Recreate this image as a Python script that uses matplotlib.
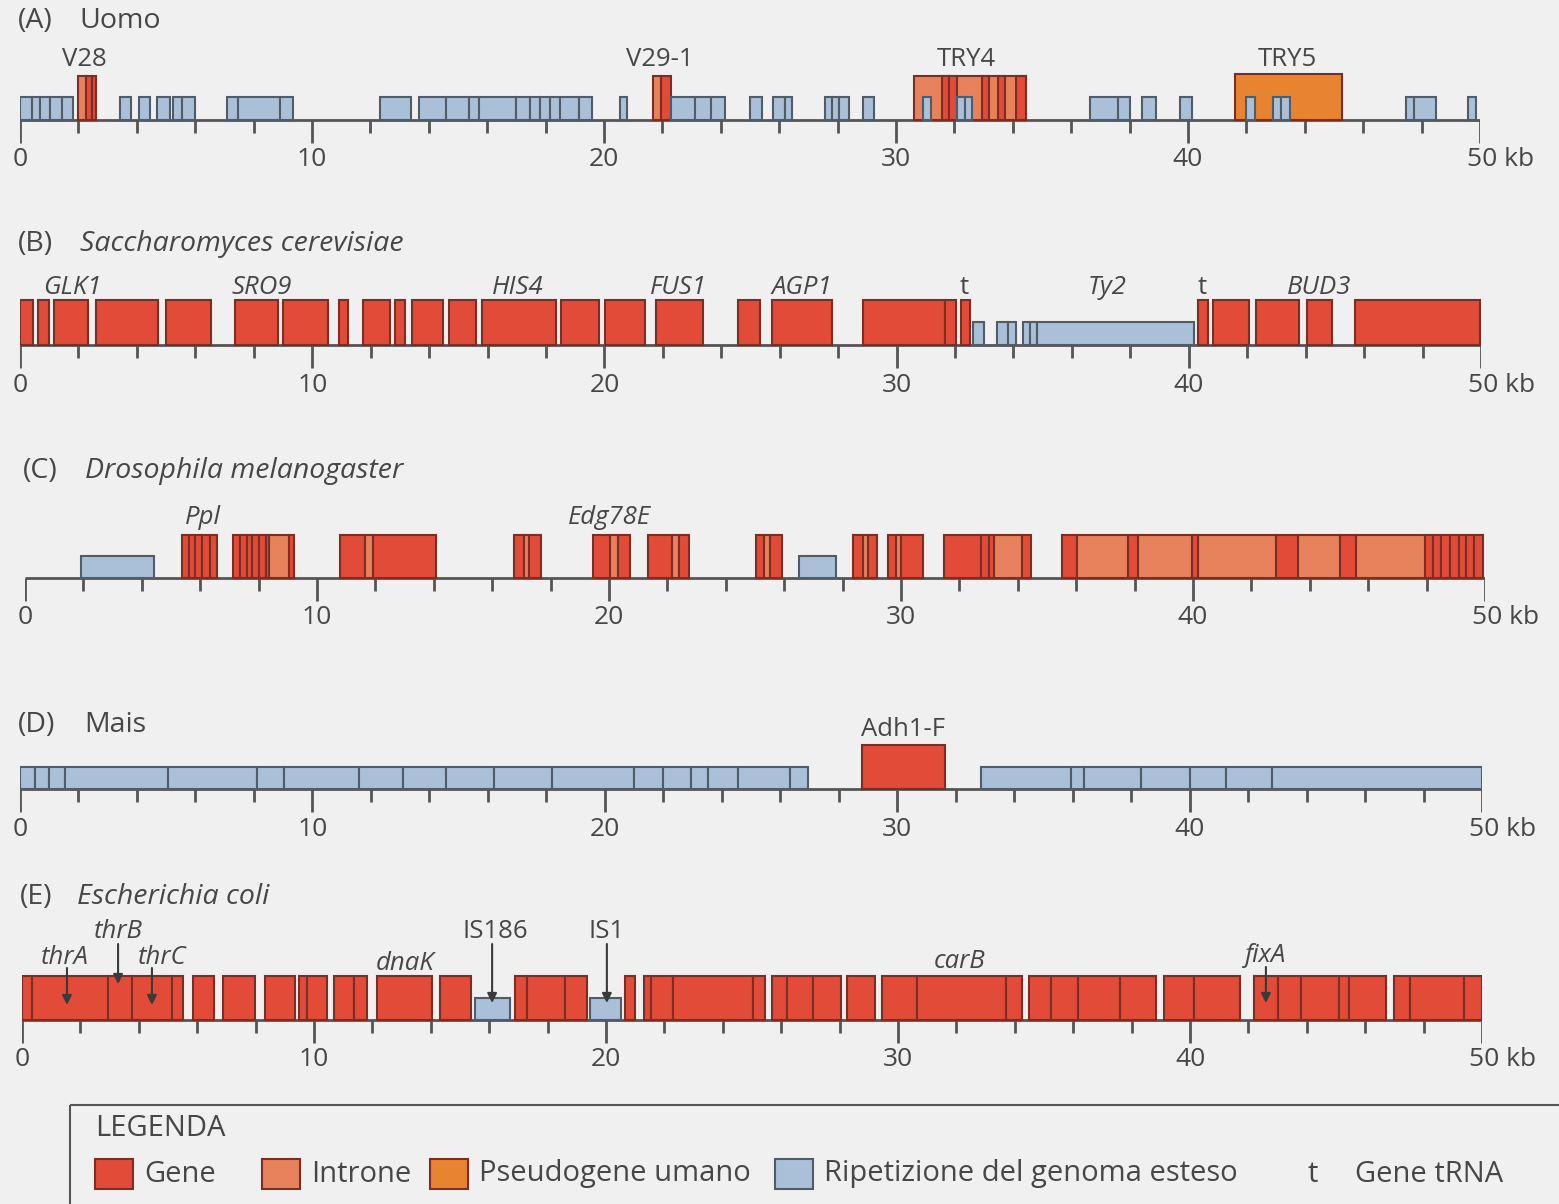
import matplotlib.pyplot as plt
import numpy as np
from matplotlib.patches import Rectangle

plt.rcParams['font.family'] = ['Open Sans', 'DejaVu Sans']

W, H = 1559, 1204
BG = "#F0F0F0"
GENE = "#E14B37"
INTRON = "#E8825C"
PSEUDO = "#E8842F"
REPEAT = "#AAC0D8"
GENE_EDGE = "#7A2E24"
REP_EDGE = "#505C68"
INK = "#474747"

# each run is a list of boundaries in kb; neighbouring boundaries make adjacent boxes
# (A) Uomo
A_gene_runs = [[2.26, 2.45, 2.6], [21.95, 22.28], [31.56, 31.82, 32.08], [32.95, 33.2],
               [33.48, 33.74], [34.1, 34.44]]
A_introns = [[1.98, 2.26], [21.68, 21.95], [30.63, 34.44]]
A_pseudo = [[41.6, 45.28]]
A_repeat_runs = [[0, 0.41, 0.68, 1.03, 1.44, 1.81], [3.42, 3.8], [4.07, 4.45], [4.68, 5.12],
                 [5.23, 5.55, 5.98], [7.08, 7.46, 8.89, 9.34], [12.33, 13.4],
                 [13.66, 14.59, 15.36, 15.73, 17.0, 17.48, 17.82, 18.16, 18.5, 19.13, 19.59],
                 [20.54, 20.78], [22.28, 23.13, 23.67, 24.15], [25.0, 25.4], [25.8, 26.2, 26.45],
                 [27.57, 27.8, 28.06, 28.4], [28.88, 29.23], [30.94, 31.21], [32.1, 32.35, 32.6],
                 [36.63, 37.6, 38.02], [38.43, 38.9], [39.74, 40.12], [41.99, 42.3],
                 [42.92, 43.2, 43.5], [47.46, 47.73, 48.48], [49.6, 49.86]]
A_labels = ["V28", "V29-1", "TRY4", "TRY5"]
A_label_kb = [2.2, 21.9, 32.4, 43.4]

# (B) Saccharomyces cerevisiae
B_gene_runs = [[0, 0.46], [0.63, 0.99], [1.16, 2.34], [2.59, 4.73], [5.0, 6.54], [7.35, 8.82],
               [8.99, 10.53], [10.92, 11.21], [11.74, 12.66], [12.83, 13.19], [13.41, 14.47],
               [14.68, 15.61], [15.82, 18.34], [18.53, 19.8], [20.02, 21.38], [21.77, 23.38],
               [24.57, 25.34], [25.75, 27.8], [28.85, 31.67, 32.02], [32.2, 32.5],
               [40.33, 40.64], [40.82, 42.07], [42.3, 43.78], [44.04, 44.91], [45.7, 49.97]]
B_repeat_runs = [[32.63, 32.98], [33.45, 33.8, 34.1], [34.34, 34.55, 34.8, 40.17]]
B_labels = ["GLK1", "SRO9", "HIS4", "FUS1", "AGP1", "t", "Ty2", "t", "BUD3"]
B_label_kb = [1.78, 8.28, 17.03, 22.54, 26.74, 32.32, 37.2, 40.46, 44.46]
B_label_italic = [True, True, True, True, True, False, True, False, True]

# (C) Drosophila melanogaster
C_gene_runs = [[5.36, 5.61, 5.81, 6.07, 6.32, 6.58], [7.12, 7.37, 7.59, 7.76, 8.0, 8.25, 8.36],
               [9.03, 9.2], [10.78, 11.66], [11.92, 14.08], [16.75, 17.08], [17.25, 17.68],
               [19.46, 20.05], [20.3, 20.73], [21.32, 22.15], [22.4, 22.73], [25.03, 25.3],
               [25.5, 25.94], [28.35, 28.7], [28.88, 29.19], [29.54, 29.84], [30.0, 30.77],
               [31.47, 32.73, 33.0, 33.17], [34.13, 34.45], [35.5, 36.02], [37.78, 38.13],
               [39.97, 40.18], [42.85, 43.59], [45.04, 45.57],
               [47.93, 48.23, 48.5, 48.8, 49.1, 49.36, 49.62, 49.93]]
C_introns = [[8.36, 9.03], [11.66, 11.92], [17.08, 17.25], [20.05, 20.3], [22.15, 22.4],
             [25.3, 25.5], [28.7, 28.88], [29.84, 30.0], [33.17, 34.13], [36.02, 37.78],
             [38.13, 39.97], [40.18, 42.85], [43.59, 45.04], [45.57, 47.93]]
C_repeat_runs = [[1.92, 4.42], [26.52, 27.79]]
C_labels = ["Ppl", "Edg78E"]
C_label_kb = [6.1, 20.0]

# (D) Mais
D_gene_runs = [[28.8, 31.65]]
D_repeat_runs = [[0, 0.52, 1.0, 1.55, 5.07, 8.1, 9.03, 11.58, 13.1, 14.57, 16.2, 18.2,
                  21.0, 22.0, 22.95, 23.52, 24.54, 26.35, 26.95],
                 [32.85, 35.95, 36.4, 38.35, 40.0, 41.25, 42.83, 50.0]]
D_labels = ["Adh1-F"]
D_label_kb = [30.2]

# (E) Escherichia coli
E_gene_runs = [[0, 0.34, 2.93, 3.78, 5.14, 5.53], [5.84, 6.58], [6.9, 7.98], [8.31, 9.35],
               [9.5, 9.76, 10.44], [10.7, 11.37, 11.8], [12.15, 14.04], [14.32, 15.38],
               [16.9, 17.29, 18.61, 19.35], [20.66, 21.0], [21.3, 21.55, 22.3, 25.05, 25.45],
               [25.7, 26.2, 27.1, 28.05], [28.25, 29.2], [29.45, 30.65, 33.7, 34.25],
               [34.5, 35.25, 36.15, 37.6, 38.85], [39.1, 40.15, 41.7], [42.2, 43.0, 43.8, 45.1, 45.45, 46.7],
               [47.0, 47.55, 49.4, 50.0]]
E_repeat_runs = [[15.53, 16.71], [19.46, 20.51]]
E_labels = ["thrA", "thrB", "thrC", "dnaK", "IS186", "IS1", "carB", "fixA"]
E_label_kb = [1.47, 3.29, 4.8, 13.12, 16.2, 20.03, 32.1, 42.6]
E_label_up = [63, 88, 63, 57, 89, 89, 58, 65]
E_label_italic = [True, True, True, True, False, False, True, True]
E_arrow_kb = [1.54, 3.29, 4.45, 16.1, 20.03, 42.6]
E_arrow_tail = [52, 76, 52, 76, 76, 53]
E_arrow_head = [15, 36, 15, 17, 17, 17]

TICK_FS = 19
LAB_FS = 18.5
TITLE_FS = 20.5
LEG_FS = 21

fig = plt.figure(figsize=(W / 100, H / 100), dpi=100, facecolor=BG)


def panel(x0, x1, yb):
    ax = fig.add_axes([x0 / W, 1 - (yb + 65) / H, (x1 - x0) / W, 200 / H])
    ax.set_xlim(0, 50)
    ax.set_ylim(-65, 135)
    ax.axis("off")
    ax.plot([0, 50], [0, 0], color="#555555", lw=2, zorder=1, solid_capstyle="butt")
    ticks = np.arange(0, 51, 2)
    major = ticks[ticks % 10 == 0]
    minor = ticks[ticks % 10 != 0]
    ax.vlines(major, -23, 0, color="#555555", lw=2, zorder=1)
    ax.vlines(minor, -13, 0, color="#555555", lw=2, zorder=1)
    for t in major[:-1]:
        ax.text(t, -40, str(t), ha="center", va="center", fontsize=TICK_FS, color=INK)
    ax.text(49.55, -40, "50 kb", ha="left", va="center", fontsize=TICK_FS, color=INK,
            clip_on=False)
    return ax


def boxes(ax, runs, h, face, edge, z):
    for run in runs:
        for a, b in zip(run[:-1], run[1:]):
            ax.add_patch(Rectangle((a, 0), b - a, h, facecolor=face, edgecolor=edge,
                                   lw=1.5, zorder=z))


def title(ax, tag, name, up, name_kb, italic=True):
    ax.text(-0.07, up, tag, ha="left", va="center", fontsize=TITLE_FS, color=INK, clip_on=False)
    ax.text(name_kb, up, name, ha="left", va="center", fontsize=TITLE_FS, color=INK,
            style="italic" if italic else "normal", clip_on=False)


# (A)
ax = panel(20, 1480, 120)
boxes(ax, A_introns, 44, INTRON, GENE_EDGE, 2)
boxes(ax, A_pseudo, 46, PSEUDO, GENE_EDGE, 2)
boxes(ax, A_gene_runs, 44, GENE, GENE_EDGE, 3)
boxes(ax, A_repeat_runs, 23, REPEAT, REP_EDGE, 4)
for lab, k in zip(A_labels, A_label_kb):
    ax.text(k, 60, lab, ha="center", va="center", fontsize=LAB_FS, color=INK)
title(ax, "(A)", "Uomo", 99, 2.05, italic=False)

# (B)
ax = panel(20, 1481, 345)
boxes(ax, B_gene_runs, 45, GENE, GENE_EDGE, 3)
boxes(ax, B_repeat_runs, 23, REPEAT, REP_EDGE, 4)
for lab, k, it in zip(B_labels, B_label_kb, B_label_italic):
    ax.text(k, 58, lab, ha="center", va="center", fontsize=LAB_FS, color=INK,
            style="italic" if it else "normal")
title(ax, "(B)", "Saccharomyces cerevisiae", 101, 2.05)

# (C)
ax = panel(25, 1485, 578)
boxes(ax, C_introns, 43, INTRON, GENE_EDGE, 2)
boxes(ax, C_gene_runs, 43, GENE, GENE_EDGE, 3)
boxes(ax, C_repeat_runs, 22, REPEAT, REP_EDGE, 4)
for lab, k in zip(C_labels, C_label_kb):
    ax.text(k, 61, lab, ha="center", va="center", fontsize=LAB_FS, color=INK, style="italic")
title(ax, "(C)", "Drosophila melanogaster", 107, 2.05)

# (D)
ax = panel(20, 1482, 789)
boxes(ax, D_gene_runs, 44, GENE, GENE_EDGE, 3)
boxes(ax, D_repeat_runs, 22, REPEAT, REP_EDGE, 4)
for lab, k in zip(D_labels, D_label_kb):
    ax.text(k, 59, lab, ha="center", va="center", fontsize=LAB_FS, color=INK)
title(ax, "(D)", "Mais", 64, 2.2, italic=False)

# (E)
ax = panel(22, 1482, 1020)
boxes(ax, E_gene_runs, 44, GENE, GENE_EDGE, 3)
boxes(ax, E_repeat_runs, 22, REPEAT, REP_EDGE, 4)
for lab, k, up, it in zip(E_labels, E_label_kb, E_label_up, E_label_italic):
    ax.text(k, up, lab, ha="center", va="center", fontsize=LAB_FS, color=INK,
            style="italic" if it else "normal")
for k, t0, t1 in zip(E_arrow_kb, E_arrow_tail, E_arrow_head):
    ax.annotate("", xy=(k, t1), xytext=(k, t0), zorder=6,
                arrowprops=dict(arrowstyle="-|>", color="#3a3a3a", lw=1.5, mutation_scale=14,
                                shrinkA=0, shrinkB=0))
title(ax, "(E)", "Escherichia coli", 123, 1.9)

# legend
lg = fig.add_axes([0, 0, 1, 1])
lg.set_xlim(0, W)
lg.set_ylim(H, 0)
lg.axis("off")
lg.add_patch(Rectangle((70, 1105), 1600, 200, facecolor="none", edgecolor="#555555", lw=1.5))
lg.text(95, 1128, "LEGENDA", ha="left", va="center", fontsize=LEG_FS, color=INK)
legend_items = ["Gene", "Introne", "Pseudogene umano", "Ripetizione del genoma esteso"]
legend_colors = [GENE, INTRON, PSEUDO, REPEAT]
legend_edges = [GENE_EDGE, GENE_EDGE, GENE_EDGE, REP_EDGE]
legend_x = [95, 262, 430, 775]
for lab, c, e, x in zip(legend_items, legend_colors, legend_edges, legend_x):
    lg.add_patch(Rectangle((x, 1159), 38, 30, facecolor=c, edgecolor=e, lw=1.5))
    lg.text(x + 49, 1174, lab, ha="left", va="center", fontsize=LEG_FS, color=INK)
lg.text(1313, 1174, "t", ha="center", va="center", fontsize=LEG_FS, color=INK)
lg.text(1355, 1174, "Gene tRNA", ha="left", va="center", fontsize=LEG_FS, color=INK)

fig.savefig("out.png", dpi=100, facecolor=BG)
